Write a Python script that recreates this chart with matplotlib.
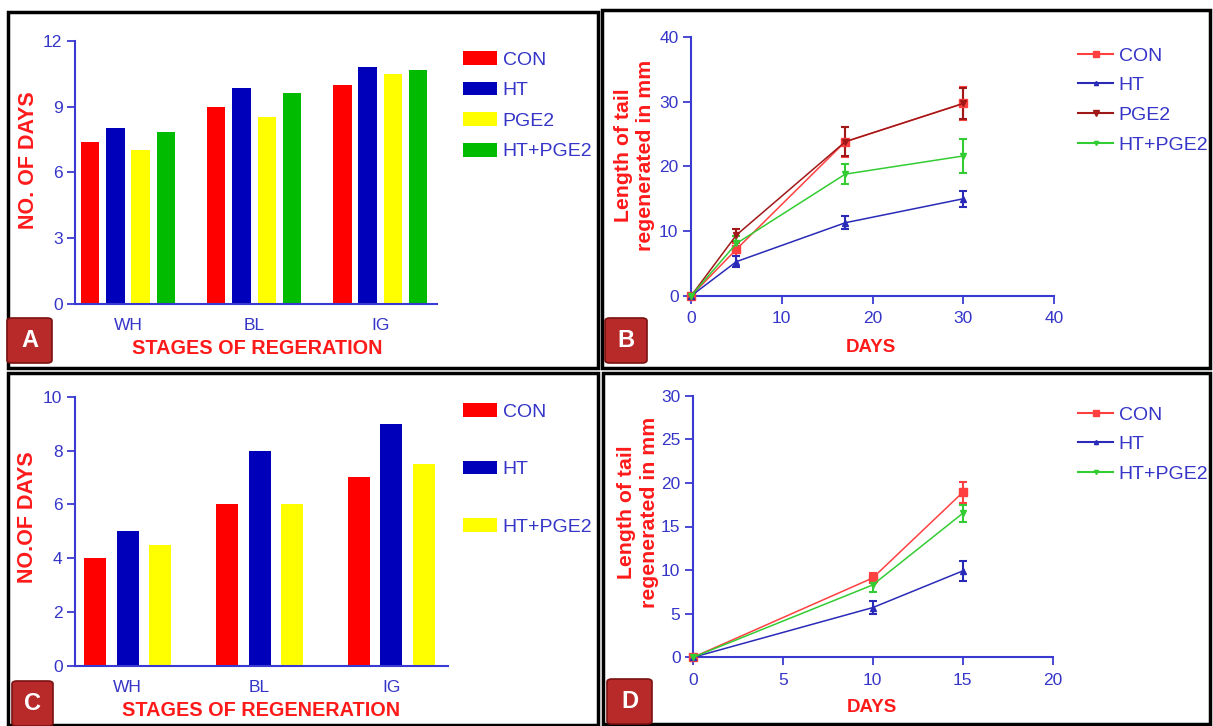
import matplotlib
matplotlib.use("Agg")
import matplotlib.pyplot as plt
from matplotlib.patches import Rectangle, FancyBboxPatch
from matplotlib.lines import Line2D
import numpy as np

plt.rcParams['font.family'] = ['Liberation Sans', 'DejaVu Sans']

# ---------------- data ----------------
stages = ["WH", "BL", "IG"]

# Panel A (bar)
a_groups = ["CON", "HT", "PGE2", "HT+PGE2"]
a_con = [7.4, 9.0, 10.0]
a_ht = [8.0, 9.85, 10.8]
a_pge2 = [7.0, 8.5, 10.5]
a_htpge2 = [7.85, 9.6, 10.65]

# Panel C (bar)
c_groups = ["CON", "HT", "HT+PGE2"]
c_con = [4.0, 6.0, 7.0]
c_ht = [5.0, 8.0, 9.0]
c_htpge2 = [4.5, 6.0, 7.5]

# Panel B (lines)
b_days = [0, 5, 17, 30]
b_con = [0, 7.2, 23.8, 29.7]
b_con_err = [0, 1.0, 2.3, 2.5]
b_ht = [0, 5.3, 11.3, 15.0]
b_ht_err = [0, 0.85, 1.0, 1.2]
b_pge2 = [0, 9.4, 23.8, 29.7]
b_pge2_err = [0, 0.9, 2.2, 2.4]
b_htpge2 = [0, 8.1, 18.8, 21.6]
b_htpge2_err = [0, 1.2, 1.5, 2.6]

# Panel D (lines)
d_days = [0, 10, 15]
d_con = [0, 9.1, 18.9]
d_con_err = [0, 0.6, 1.2]
d_ht = [0, 5.7, 9.9]
d_ht_err = [0, 0.7, 1.1]
d_htpge2 = [0, 8.3, 16.5]
d_htpge2_err = [0, 0.8, 1.0]

# ---------------- style ----------------
W, H = 1213, 726
AXC = '#3a3ad2'      # axis colour
TKC = '#3535c8'      # tick label colour
LBC = '#ff1a1a'      # axis label red
A_COLORS = ['#ff0000', '#0000bb', '#ffff00', '#00bb00']
C_COLORS = ['#ff0000', '#0000bb', '#ffff00']
LINE_STYLE = {
    "CON": dict(color='#ff4040', marker='s', ms=6),
    "HT": dict(color='#2a2ab8', marker='^', ms=4),
    "PGE2": dict(color='#a01818', marker='v', ms=5),
    "HT+PGE2": dict(color='#33cc33', marker='v', ms=4),
}
TICK_FS = 12.5
LEG_FS = 14

fig = plt.figure(figsize=(W / 100, H / 100), dpi=100)
fig.patch.set_facecolor('white')


def fx(px):
    return px / W


def fy(py):
    return 1 - py / H


def make_axes(x0, x1, ytop, ybot):
    ax = fig.add_axes([fx(x0), fy(ybot), (x1 - x0) / W, (ybot - ytop) / H])
    for s in ['top', 'right']:
        ax.spines[s].set_visible(False)
    for s in ['left', 'bottom']:
        ax.spines[s].set_color(AXC)
        ax.spines[s].set_linewidth(1.5)
    ax.tick_params(colors=AXC, labelcolor=TKC, labelsize=TICK_FS, length=6, width=1.3, direction='out')
    ax.set_facecolor('white')
    return ax


def line_legend(ax, names, top_px, spacing):
    handles = [Line2D([], [], color=LINE_STYLE[n]['color'], marker=LINE_STYLE[n]['marker'],
                      ms=LINE_STYLE[n]['ms'] - 1, lw=1.5) for n in names]
    leg = ax.legend(handles, names, loc='upper left', bbox_to_anchor=(fx(1078), fy(top_px)),
                    bbox_transform=fig.transFigure, frameon=False, fontsize=LEG_FS, handlelength=1.8,
                    handletextpad=0.3, labelspacing=spacing, borderpad=0, borderaxespad=0)
    for t in leg.get_texts():
        t.set_color(TKC)
    return leg


# ---------------- panel frames ----------------
for (x0, y0, x1, y1) in [(8, 12, 598, 368), (602, 10, 1210, 368), (8, 373, 598, 725), (603, 373, 1210, 724)]:
    fig.patches.append(Rectangle((fx(x0), fy(y1)), (x1 - x0) / W, (y1 - y0) / H, transform=fig.transFigure,
                                 fill=False, edgecolor='black', linewidth=2.5, zorder=10))

x = np.arange(len(stages))

# ---------------- Panel A ----------------
axA = make_axes(75, 437, 40.7, 304)
pitch, bw = 0.2, 0.145
for i, (name, vals) in enumerate(zip(a_groups, [a_con, a_ht, a_pge2, a_htpge2])):
    axA.bar(x + (i - 1.5) * pitch, vals, width=bw, color=A_COLORS[i], label=name, zorder=2)
axA.set_ylim(0, 12)
axA.set_yticks([0, 3, 6, 9, 12])
axA.set_xlim(-0.42, 2.45)
axA.set_xticks(x)
axA.set_xticklabels(stages)
axA.tick_params(axis='x', length=0, pad=10)
axA.tick_params(axis='y', pad=3)
fig.text(fx(28), fy(160), "NO. OF DAYS", rotation=90, ha='center', va='center',
         fontsize=15.5, fontweight='bold', color=LBC)
fig.text(fx(257), fy(348.5), "STAGES OF REGERATION", ha='center', va='center',
         fontsize=14.3, fontweight='bold', color=LBC)
legA = axA.legend(loc='upper left', bbox_to_anchor=(fx(463), fy(51)), bbox_transform=fig.transFigure,
                  frameon=False, fontsize=LEG_FS, handlelength=1.75, handleheight=0.72, handletextpad=0.3,
                  labelspacing=0.66, borderpad=0, borderaxespad=0)
for t in legA.get_texts():
    t.set_color(TKC)

# ---------------- Panel C ----------------
axC = make_axes(75, 448, 396.7, 666)
pitchc, bwc = 0.245, 0.167
for i, (name, vals) in enumerate(zip(c_groups, [c_con, c_ht, c_htpge2])):
    axC.bar(x + (i - 1) * pitchc, vals, width=bwc, color=C_COLORS[i], label=name, zorder=2)
axC.set_ylim(0, 10)
axC.set_yticks([0, 2, 4, 6, 8, 10])
axC.set_xlim(-0.40, 2.43)
axC.set_xticks(x)
axC.set_xticklabels(stages)
axC.tick_params(axis='x', length=0, pad=10)
axC.tick_params(axis='y', pad=3)
fig.text(fx(27.5), fy(517.5), "NO.OF DAYS", rotation=90, ha='center', va='center',
         fontsize=15.5, fontweight='bold', color=LBC)
fig.text(fx(261), fy(710), "STAGES OF REGENERATION", ha='center', va='center',
         fontsize=14.3, fontweight='bold', color=LBC)
legC = axC.legend(loc='upper left', bbox_to_anchor=(fx(463), fy(403)), bbox_transform=fig.transFigure,
                  frameon=False, fontsize=LEG_FS, handlelength=1.75, handleheight=0.72, handletextpad=0.3,
                  labelspacing=2.05, borderpad=0, borderaxespad=0)
for t in legC.get_texts():
    t.set_color(TKC)

# ---------------- Panel B ----------------
axB = make_axes(691, 1054, 36.7, 296)
for name, vals, err in [("CON", b_con, b_con_err), ("HT", b_ht, b_ht_err),
                        ("PGE2", b_pge2, b_pge2_err), ("HT+PGE2", b_htpge2, b_htpge2_err)]:
    st = LINE_STYLE[name]
    axB.errorbar(b_days, vals, yerr=err, color=st['color'], marker=st['marker'], ms=st['ms'],
                 lw=1.1, elinewidth=1.5, capsize=3, capthick=1.5, clip_on=False, zorder=3)
axB.set_xlim(0, 40)
axB.set_ylim(0, 40)
axB.set_xticks([0, 10, 20, 30, 40])
axB.set_yticks([0, 10, 20, 30, 40])
axB.tick_params(axis='x', pad=5)
axB.tick_params(axis='y', pad=3)
fig.text(fx(634.5), fy(155), "Length of tail\nregenerated in mm", rotation=90, ha='center', va='center',
         fontsize=15.3, fontweight='bold', color=LBC, linespacing=1.25, multialignment='center')
fig.text(fx(871), fy(347.5), "DAYS", ha='center', va='center', fontsize=13.5, fontweight='bold', color=LBC)
line_legend(axB, ["CON", "HT", "PGE2", "HT+PGE2"], 47, 0.62)

# ---------------- Panel D ----------------
axD = make_axes(693, 1052.5, 395.7, 657.3)
for name, vals, err in [("CON", d_con, d_con_err), ("HT", d_ht, d_ht_err), ("HT+PGE2", d_htpge2, d_htpge2_err)]:
    st = LINE_STYLE[name]
    axD.errorbar(d_days, vals, yerr=err, color=st['color'], marker=st['marker'], ms=st['ms'],
                 lw=1.1, elinewidth=1.5, capsize=3, capthick=1.5, clip_on=False, zorder=3)
axD.set_xlim(0, 20)
axD.set_ylim(0, 30)
axD.set_xticks([0, 5, 10, 15, 20])
axD.set_yticks([0, 5, 10, 15, 20, 25, 30])
axD.tick_params(axis='x', pad=5)
axD.tick_params(axis='y', pad=3)
fig.text(fx(638), fy(512), "Length of tail\nregenerated in mm", rotation=90, ha='center', va='center',
         fontsize=15.3, fontweight='bold', color=LBC, linespacing=1.25, multialignment='center')
fig.text(fx(872), fy(707), "DAYS", ha='center', va='center', fontsize=13.5, fontweight='bold', color=LBC)
line_legend(axD, ["CON", "HT", "HT+PGE2"], 406, 0.62)

# ---------------- panel letters ----------------
for letter, (x0, y0, x1, y1) in [("A", (7, 318, 52, 363)), ("B", (605, 318, 647, 363)),
                                 ("C", (12, 681, 53, 726)), ("D", (607, 679, 652, 724))]:
    fig.patches.append(FancyBboxPatch((fx(x0), fy(y1)), (x1 - x0) / W, (y1 - y0) / H,
                                      boxstyle="round,pad=0,rounding_size=0.004", transform=fig.transFigure,
                                      facecolor='#b82a2a', edgecolor='#7a1212', linewidth=1.2, zorder=11))
    fig.text(fx((x0 + x1) / 2), fy((y0 + y1) / 2), letter, ha='center', va='center', color='white',
             fontsize=17, fontweight='bold', zorder=12)

fig.savefig("out.png", dpi=100, facecolor='white')
